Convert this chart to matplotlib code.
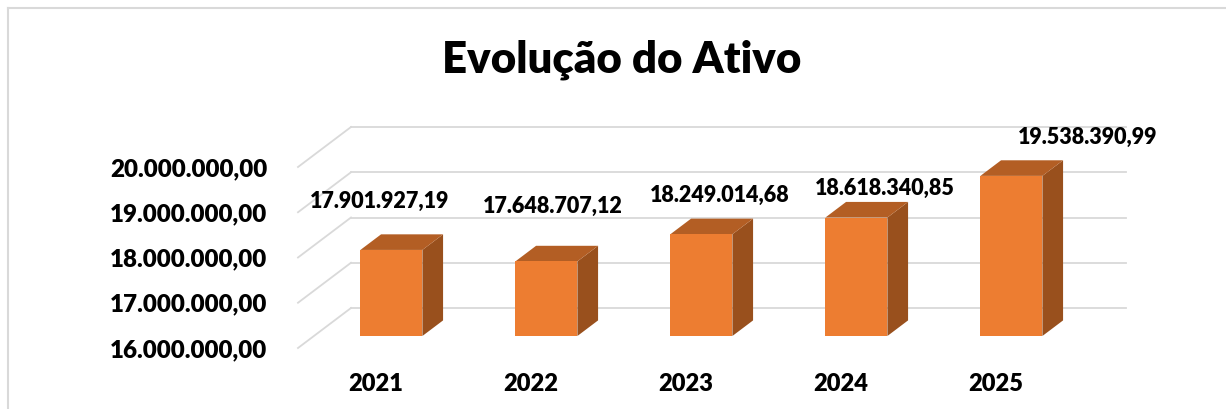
import numpy as np
import matplotlib.pyplot as plt
from matplotlib.patches import Polygon, Rectangle
from matplotlib.lines import Line2D

plt.rcParams['font.family'] = ['Lato', 'DejaVu Sans']
plt.rcParams['font.weight'] = 'heavy'

# dados
anos = ['2021', '2022', '2023', '2024', '2025']
ativo = [17901927.19, 17648707.12, 18249014.68, 18618340.85, 19538390.99]
yticks = [16000000, 17000000, 18000000, 19000000, 20000000]

# deslocamento dos rotulos (pixels) em relacao ao topo frontal da barra
label_off = [(-12, 49), (6, 55), (18, 39), (28, 29), (76, 38)]


def fmt_br(v):
    s = f"{v:,.2f}"
    return s.replace(',', 'X').replace('.', ',').replace('X', '.')


W, H = 1226, 409
fig = plt.figure(figsize=(W / 100, H / 100), dpi=100)

# eixo = plano frontal do grafico 3D
ax = fig.add_axes([298 / W, (H - 348) / H, 775 / W, 181 / H])
ymin, ymax = yticks[0], yticks[-1]
ax.set_xlim(-0.5, len(anos) - 0.5)
ax.set_ylim(ymin, ymax)

# vetor de profundidade (frente -> fundo) em unidades de dados
ddx = 53 / 155.0
ddy = 40 / (181 / (ymax - ymin))

grid_c = '#D9D9D9'
x0, x1 = -0.5, len(anos) - 0.5
for v in yticks:
    # parede lateral
    ax.add_line(Line2D([x0, x0 + ddx], [v, v + ddy], color=grid_c, lw=1.3,
                       clip_on=False, zorder=1))
    # parede do fundo
    ax.add_line(Line2D([x0 + ddx, x1 + ddx], [v + ddy, v + ddy], color=grid_c,
                       lw=1.3, clip_on=False, zorder=1))

# barras "3D"
w = 0.4
d0, d1 = 0.3, 0.69
front_c, top_c, side_c = '#ED7D31', '#B35E24', '#99501D'
for i, v in enumerate(ativo):
    xl = i - w / 2 + d0 * ddx
    xr = xl + w
    yb = ymin + d0 * ddy
    yt = v + d0 * ddy
    sx = (d1 - d0) * ddx
    sy = (d1 - d0) * ddy
    ax.add_patch(Polygon([(xr, yb), (xr + sx, yb + sy), (xr + sx, yt + sy), (xr, yt)],
                         closed=True, fc=side_c, ec='none', clip_on=False, zorder=3))
    ax.add_patch(Polygon([(xl, yt), (xr, yt), (xr + sx, yt + sy), (xl + sx, yt + sy)],
                         closed=True, fc=top_c, ec='none', clip_on=False, zorder=3))
    ax.add_patch(Rectangle((xl, yb), w, v - ymin, fc=front_c, ec='none',
                           clip_on=False, zorder=4))
    ax.annotate(fmt_br(v), xy=((xl + xr) / 2, yt), xytext=label_off[i],
                textcoords='offset pixels', ha='center', va='center',
                fontsize=15.5, color='black',
                annotation_clip=False, zorder=5)

ax.set_yticks(yticks, [fmt_br(t) for t in yticks])
ax.set_xticks(range(len(anos)), anos)
ax.tick_params(axis='y', length=0, pad=22, labelsize=17.4)
ax.tick_params(axis='x', length=0, pad=18, labelsize=17)
for s in ax.spines.values():
    s.set_visible(False)
ax.patch.set_visible(False)

fig.text(622 / W, (H - 73) / H, 'Evolução do Ativo', ha='center', va='baseline',
         fontsize=31.5)

# moldura
fig.add_artist(Line2D([8 / W, 8 / W], [0, (H - 8) / H], color='#D9D9D9', lw=1.5,
                      transform=fig.transFigure))
fig.add_artist(Line2D([8 / W, 1], [(H - 8) / H, (H - 8) / H], color='#D9D9D9',
                      lw=1.5, transform=fig.transFigure))

fig.savefig('out.png', dpi=100)
